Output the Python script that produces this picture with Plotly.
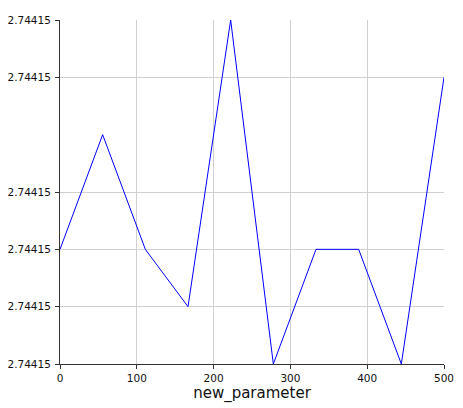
import plotly.graph_objs as go

x_values = [0, 55.56, 111.11, 166.67, 222.22, 277.78, 333.33, 388.89, 444.44, 500]
y_values = [2.74415002, 2.74415004, 2.74415002, 2.74415001, 2.74415006,
            2.74415000, 2.74415002, 2.74415002, 2.74415000, 2.74415005]
y_ticks = [2.74415000, 2.74415001, 2.74415002, 2.74415003, 2.74415005, 2.74415006]
y_grid = [2.74415001, 2.74415002, 2.74415003, 2.74415005]
x_ticks = [0, 100, 200, 300, 400, 500]
x_grid = [100, 200, 300, 400]

fig = go.Figure()
fig.add_trace(go.Scatter(
    x=x_values,
    y=y_values,
    mode='lines',
    line=dict(color='#0000ff', width=1),
    showlegend=False
))

# page body keeps its 8px margin, so the figure is 8px smaller each way
fig.update_layout(
    width=455,
    height=400,
    margin=dict(l=52, r=19, t=12, b=44),
    plot_bgcolor='white',
    paper_bgcolor='white',
    font=dict(family='DejaVu Sans', size=10.5, color='#111111'),
    xaxis=dict(
        range=[0, 500],
        tickvals=x_ticks,
        automargin=False,
        showgrid=False,
        zeroline=False,
        showline=True,
        linecolor='#333333',
        linewidth=1,
        ticks='outside',
        ticklen=4,
        tickcolor='#333333',
        minor=dict(tickvals=x_grid, showgrid=True, gridcolor='#d0d0d0',
                   gridwidth=1, ticks=''),
        title=dict(text='new_parameter', font=dict(size=15), standoff=2),
    ),
    yaxis=dict(
        range=[2.74415000, 2.74415006],
        tickvals=y_ticks,
        tickformat='.6g',
        automargin=False,
        ticklabelstandoff=2,
        showgrid=False,
        zeroline=False,
        showline=True,
        linecolor='#333333',
        linewidth=1,
        ticks='outside',
        ticklen=4,
        tickcolor='#333333',
        minor=dict(tickvals=y_grid, showgrid=True, gridcolor='#d0d0d0',
                   gridwidth=1, ticks=''),
    ),
)

fig.write_html("out.html")
